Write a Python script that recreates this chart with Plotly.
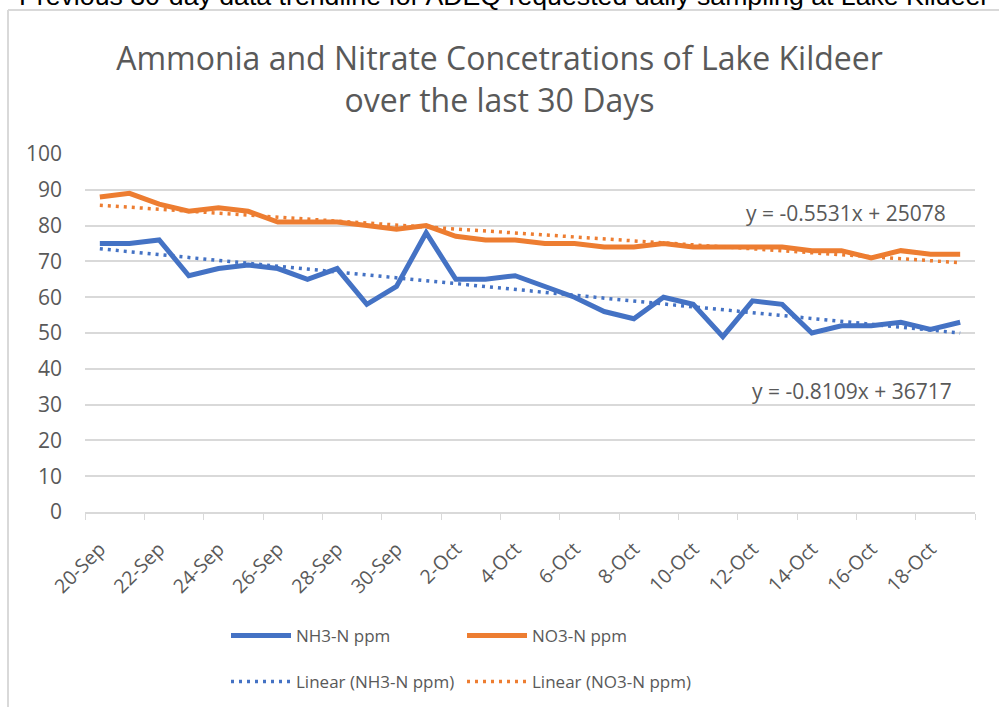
import numpy as np
import plotly.graph_objects as go

dates = ["20-Sep", "21-Sep", "22-Sep", "23-Sep", "24-Sep", "25-Sep", "26-Sep", "27-Sep",
         "28-Sep", "29-Sep", "30-Sep", "1-Oct", "2-Oct", "3-Oct", "4-Oct", "5-Oct", "6-Oct",
         "7-Oct", "8-Oct", "9-Oct", "10-Oct", "11-Oct", "12-Oct", "13-Oct", "14-Oct", "15-Oct",
         "16-Oct", "17-Oct", "18-Oct", "19-Oct"]
nh3 = [75, 75, 76, 66, 68, 69, 68, 65, 68, 58, 63, 78, 65, 65, 66, 63, 60, 56, 54, 60,
       58, 49, 59, 58, 50, 52, 52, 53, 51, 53]
no3 = [88, 89, 86, 84, 85, 84, 81, 81, 81, 80, 79, 80, 77, 76, 76, 75, 75, 74, 74, 75,
       74, 74, 74, 74, 73, 73, 71, 73, 72, 72]
eq_nh3 = "y = -0.8109x + 36717"
eq_no3 = "y = -0.5531x + 25078"
page_note = "Previous 30-day data trendline for ADEQ requested daily sampling at Lake Kildeer"

BLUE = "#4472C4"
ORANGE = "#ED7D31"
GRAY = "#595959"
GRID = "#d9d9d9"
FONT = "Open Sans"

idx = np.arange(len(dates))
fit_nh3 = np.polyval(np.polyfit(idx, nh3, 1), idx)
fit_no3 = np.polyval(np.polyfit(idx, no3, 1), idx)

fig = go.Figure()
fig.add_trace(go.Scatter(x=dates, y=nh3, mode="lines", name="NH3-N ppm",
                         line=dict(color=BLUE, width=5), legend="legend"))
fig.add_trace(go.Scatter(x=dates, y=no3, mode="lines", name="NO3-N ppm",
                         line=dict(color=ORANGE, width=5), legend="legend2"))
fig.add_trace(go.Scatter(x=dates, y=fit_nh3, mode="lines", name="Linear (NH3-N ppm)",
                         line=dict(color=BLUE, width=3.5, dash="3px,5px"), legend="legend3"))
fig.add_trace(go.Scatter(x=dates, y=fit_no3, mode="lines", name="Linear (NO3-N ppm)",
                         line=dict(color=ORANGE, width=3.5, dash="3px,5px"), legend="legend4"))

W, H = 999, 707
L, R, T, B = 85, 24, 154, 195
PH = H - T - B
PW = W - L - R


def px_x(p):
    return (p - L) / PW


def px_y(p):
    return 1 - (p - T) / PH


leg_common = dict(orientation="v", itemwidth=60, xanchor="left",
                  yanchor="middle", font=dict(family=FONT, size=17, color=GRAY),
                  bgcolor="rgba(0,0,0,0)")

fig.update_layout(
    width=W, height=H,
    margin=dict(l=L, r=R, t=T, b=B, autoexpand=False),
    paper_bgcolor="white", plot_bgcolor="white",
    font=dict(family=FONT, color=GRAY),
    title=dict(text="Ammonia and Nitrate Concetrations of Lake Kildeer<br>over the last 30 Days",
               x=0.5, xanchor="center", y=1 - 70 / H, yanchor="middle",
               font=dict(family=FONT, size=32, color=GRAY)),
    xaxis=dict(type="category", tickmode="linear", tick0=0, dtick=2, tickangle=-45,
               tickson="boundaries", ticks="outside", ticklen=6, tickcolor=GRID,
               showline=True, linecolor=GRID, linewidth=2, showgrid=False, automargin=False,
               tickfont=dict(family=FONT, size=19.5, color=GRAY), ticklabelstandoff=16,
               range=[-0.5, len(dates) - 0.5]),
    yaxis=dict(range=[0, 100], dtick=10, showgrid=True, gridcolor=GRID, gridwidth=1.5,
               zeroline=False, showline=False, ticks="", automargin=False,
               tickfont=dict(family=FONT, size=21, color=GRAY), ticklabelstandoff=22),
    legend=dict(x=px_x(226), y=px_y(636), **leg_common),
    legend2=dict(x=px_x(462), y=px_y(636), **leg_common),
    legend3=dict(x=px_x(226), y=px_y(682), **leg_common),
    legend4=dict(x=px_x(462), y=px_y(682), **leg_common),
    showlegend=True,
)

fig.add_annotation(text=eq_no3, xref="paper", yref="paper", x=px_x(846), y=px_y(213),
                   xanchor="center", yanchor="middle",
                   showarrow=False, font=dict(family=FONT, size=21, color=GRAY))
fig.add_annotation(text=eq_nh3, xref="paper", yref="paper", x=px_x(852), y=px_y(391),
                   xanchor="center", yanchor="middle",
                   showarrow=False, font=dict(family=FONT, size=21, color=GRAY))
fig.add_annotation(text=page_note, xref="paper", yref="paper", x=px_x(17), xanchor="left",
                   y=px_y(-4), yanchor="middle", showarrow=False,
                   font=dict(family="Liberation Sans", size=26.7, color="black"))

# chart-area border (top and left edges visible in the reference)
fig.add_shape(type="line", xref="paper", yref="paper", x0=px_x(8), x1=px_x(1005),
              y0=px_y(10), y1=px_y(10), line=dict(color=GRID, width=2))
fig.add_shape(type="line", xref="paper", yref="paper", x0=px_x(8), x1=px_x(8),
              y0=px_y(10), y1=px_y(720), line=dict(color=GRID, width=2))

fig.write_html("out.html", config={"displayModeBar": False},
               post_script="document.body.style.margin='0px';")
